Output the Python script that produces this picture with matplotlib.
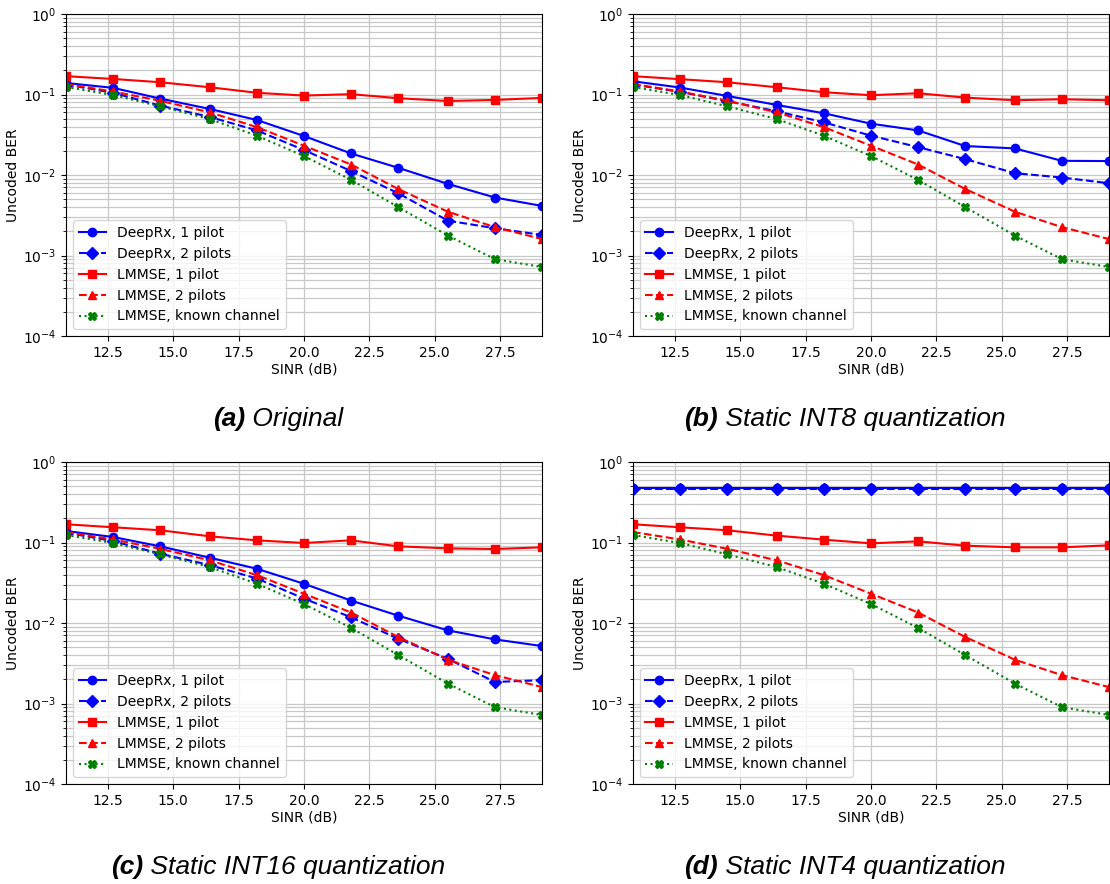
import numpy as np
import matplotlib
matplotlib.use("Agg")
import matplotlib.pyplot as plt

# SINR grid (dB)
sinr = [10.9, 12.7, 14.5, 16.4, 18.2, 20.0, 21.8, 23.6, 25.5, 27.3, 29.1]

# Uncoded BER per configuration
deeprx_1p_orig = [0.139, 0.121, 0.089, 0.0661, 0.0482, 0.0305, 0.0185, 0.0123, 0.00776, 0.00525, 0.00413]
deeprx_2p_orig = [0.133, 0.105, 0.0728, 0.0526, 0.0358, 0.0204, 0.0112, 0.00594, 0.00271, 0.00218, 0.0018]
lmmse_1p_orig = [0.169, 0.156, 0.142, 0.123, 0.105, 0.097, 0.101, 0.090, 0.083, 0.0856, 0.0907]

deeprx_1p_int8 = [0.146, 0.122, 0.096, 0.0742, 0.0584, 0.0434, 0.0358, 0.0229, 0.0214, 0.0150, 0.0149]
deeprx_2p_int8 = [0.133, 0.1077, 0.083, 0.0618, 0.0451, 0.0308, 0.0222, 0.01575, 0.01054, 0.0093, 0.0079]
lmmse_1p_int8 = [0.169, 0.155, 0.142, 0.123, 0.1067, 0.098, 0.1037, 0.0915, 0.0848, 0.0873, 0.0848]

deeprx_1p_int16 = [0.139, 0.117, 0.0896, 0.0647, 0.0472, 0.0307, 0.019, 0.01234, 0.0081, 0.00626, 0.00517]
deeprx_2p_int16 = [0.1327, 0.104, 0.0726, 0.0524, 0.0357, 0.0201, 0.01177, 0.00638, 0.00359, 0.00185, 0.00195]
lmmse_1p_int16 = [0.1685, 0.1546, 0.1419, 0.1194, 0.1064, 0.0986, 0.1064, 0.0896, 0.0846, 0.083, 0.0871]

deeprx_1p_int4 = [0.469, 0.469, 0.469, 0.469, 0.469, 0.469, 0.469, 0.469, 0.469, 0.469, 0.469]
deeprx_2p_int4 = [0.468, 0.468, 0.468, 0.468, 0.468, 0.468, 0.468, 0.468, 0.468, 0.468, 0.468]
lmmse_1p_int4 = [0.1685, 0.1546, 0.1419, 0.1217, 0.1085, 0.0976, 0.1034, 0.0913, 0.0871, 0.0871, 0.0922]

lmmse_2p = [0.135, 0.109, 0.0835, 0.0600, 0.0393, 0.0231, 0.0135, 0.0067, 0.0035, 0.00225, 0.0016]
lmmse_known = [0.124, 0.0985, 0.0713, 0.0495, 0.0307, 0.0172, 0.0087, 0.0040, 0.00177, 0.0009, 0.00072]

panel_tags = ["(a)", "(b)", "(c)", "(d)"]
panel_titles = ["Original", "Static INT8 quantization",
                "Static INT16 quantization", "Static INT4 quantization"]
series_labels = ["DeepRx, 1 pilot", "DeepRx, 2 pilots", "LMMSE, 1 pilot",
                 "LMMSE, 2 pilots", "LMMSE, known channel"]

panels = [
    (deeprx_1p_orig, deeprx_2p_orig, lmmse_1p_orig),
    (deeprx_1p_int8, deeprx_2p_int8, lmmse_1p_int8),
    (deeprx_1p_int16, deeprx_2p_int16, lmmse_1p_int16),
    (deeprx_1p_int4, deeprx_2p_int4, lmmse_1p_int4),
]

W, H = 1110, 884
fig = plt.figure(figsize=(W / 100, H / 100), dpi=100)

ax_w, ax_h = 476 / W, 322 / H
lefts = [66 / W, 633 / W]
bottoms = [(H - 336) / H, (H - 784) / H]
cap_x = [278 / W, 845 / W]
cap_y = [1 - 419 / H, 1 - 867 / H]

styles = [
    dict(color="b", ls="-", marker="o"),
    dict(color="b", ls="--", marker="D"),
    dict(color="r", ls="-", marker="s"),
    dict(color="r", ls="--", marker="^"),
    dict(color="g", ls=":", marker="X"),
]

renderer = fig.canvas.get_renderer()

for i, (d1, d2, l1) in enumerate(panels):
    r, c = divmod(i, 2)
    ax = fig.add_axes([lefts[c], bottoms[r], ax_w, ax_h])
    data = [d1, d2, l1, lmmse_2p, lmmse_known]
    for y, st, lab in zip(data, styles, series_labels):
        ax.plot(sinr, y, label=lab, lw=1.5, ms=6, clip_on=True, **st)
    ax.set_yscale("log")
    ax.set_ylim(1e-4, 1)
    ax.set_xlim(sinr[0], sinr[-1])
    ax.set_xticks([12.5, 15.0, 17.5, 20.0, 22.5, 25.0, 27.5])
    ax.grid(True, which="both", color="#c8c8c8", lw=0.9)
    ax.set_axisbelow(True)
    ax.set_xlabel("SINR (dB)", fontsize=10, labelpad=2)
    ax.set_ylabel("Uncoded BER", fontsize=10, labelpad=2)
    ax.tick_params(labelsize=10)
    ax.legend(loc="lower left", fontsize=10, framealpha=0.8)

    # Caption below each panel: bold tag followed by italic title
    t1 = fig.text(0, cap_y[r], panel_tags[i], fontsize=19, style="italic",
                  weight="bold", family="Liberation Sans", va="center", ha="left")
    t2 = fig.text(0, cap_y[r], " " + panel_titles[i], fontsize=19, style="italic",
                  family="Liberation Sans", va="center", ha="left")
    w1 = t1.get_window_extent(renderer).width / W
    w2 = t2.get_window_extent(renderer).width / W
    x0 = cap_x[c] - (w1 + w2) / 2
    t1.set_x(x0)
    t2.set_x(x0 + w1)

fig.savefig("out.png", dpi=100)
